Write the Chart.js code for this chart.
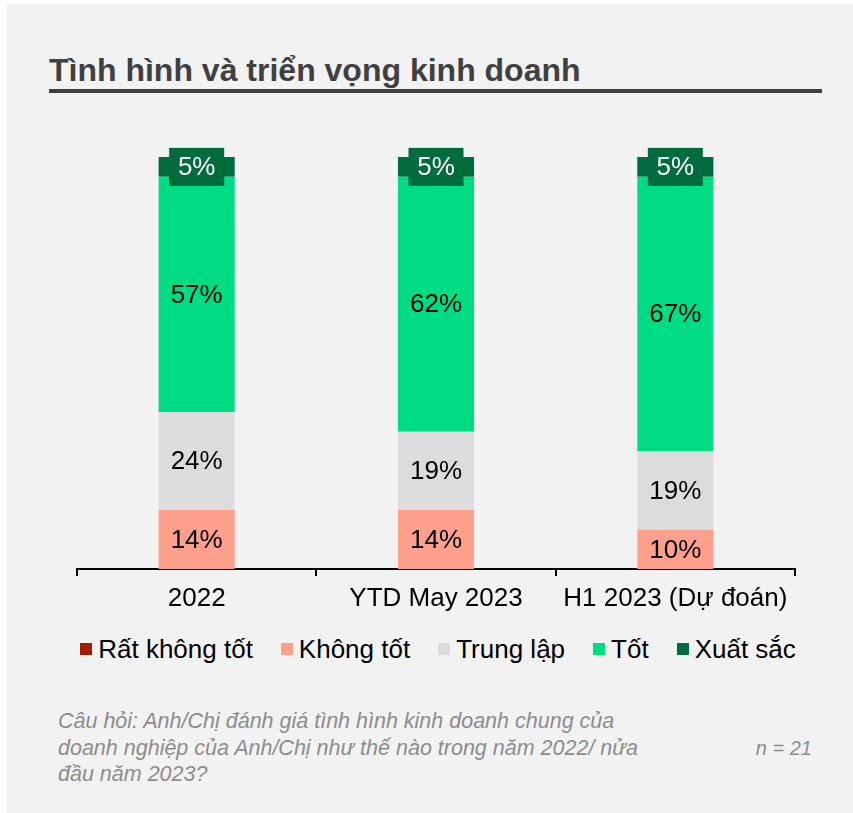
<!DOCTYPE html>
<html>
<head>
<meta charset="utf-8">
<script src="https://cdn.jsdelivr.net/npm/chart.js@4/dist/chart.umd.min.js"></script>
<style>
  html, body { margin: 0; padding: 0; background: #fff; }
  body { width: 853px; height: 813px; position: relative; overflow: hidden; font-family: "Liberation Sans", Arial, sans-serif; }
  .card { position: absolute; left: 7px; top: 4px; right: 0; bottom: 0; background: #f2f2f2; }
  .title { position: absolute; left: 49px; top: 54px; width: 773px; height: 32px; line-height: 32px; padding-bottom: 3px;
    border-bottom: 4px solid #404040; font-size: 32px; font-weight: bold; color: #404040; white-space: nowrap; }
  .wrap { position: absolute; left: 67px; top: 130px; width: 738px; height: 489px; }
  .legend { position: absolute; left: 77px; width: 722px; top: 633px; height: 32px; display: flex; justify-content: center;
    align-items: center; gap: 28px; font-size: 26px; color: #000; white-space: nowrap; }
  .legend span.item { display: flex; align-items: center; }
  .legend i { display: inline-block; width: 12px; height: 12px; margin-right: 6px; }
  .note { position: absolute; left: 58px; top: 708px; font-size: 21.5px; line-height: 26.5px; font-style: italic; color: #8c8c8c; white-space: nowrap; }
  .n { position: absolute; right: 41px; top: 735px; font-size: 20px; line-height: 26.5px; font-style: italic; color: #8c8c8c; }
</style>
</head>
<body>
<div class="card"></div>
<div class="title">Tình hình và triển vọng kinh doanh</div>
<div class="wrap"><canvas class="js-chart"></canvas></div>
<div class="legend js-legend"></div>
<div class="note">Câu hỏi: Anh/Chị đánh giá tình hình kinh doanh chung của<br>doanh nghiệp của Anh/Chị như thế nào trong năm 2022/ nửa<br>đầu năm 2023?</div>
<div class="n">n = 21</div>
<script>
const ctx = document.querySelector('.js-chart').getContext('2d');
const FONT = '"Liberation Sans", Arial, sans-serif';

const categories = ['2022', 'YTD May 2023', 'H1 2023 (Dự đoán)'];
const seriesNames = ['Rất không tốt', 'Không tốt', 'Trung lập', 'Tốt', 'Xuất sắc'];
const seriesColors = ['#a51d00', '#ffa08c', '#dcdcdf', '#00dc84', '#006b3c'];

// share of respondents, %
const ratKhongTot = [0, 0, 0];
const khongTot = [14.3, 14.3, 9.5];
const trungLap = [23.8, 19.0, 19.0];
const tot = [57.1, 61.9, 66.7];
const xuatSac = [4.8, 4.8, 4.8];

const seriesValues = [ratKhongTot, khongTot, trungLap, tot, xuatSac];

// legend
document.querySelector('.js-legend').innerHTML = seriesNames
  .map((name, i) => `<span class="item"><i style="background:${seriesColors[i]}"></i>${name}</span>`)
  .join('');

const segmentLabels = {
  id: 'segmentLabels',
  afterDatasetsDraw(chart) {
    const c = chart.ctx;
    c.save();
    c.font = '26px ' + FONT;
    c.textAlign = 'center';
    c.textBaseline = 'middle';
    chart.data.datasets.forEach((ds, di) => {
      chart.getDatasetMeta(di).data.forEach((bar, i) => {
        const v = ds.data[i];
        if (!v) return;
        const cy = (bar.y + bar.base) / 2;
        if (di === 4) {
          c.fillStyle = '#006b3c';
          c.fillRect(bar.x - 27.5, cy - 19, 55, 38);
          c.fillStyle = '#fff';
        } else {
          c.fillStyle = '#000';
        }
        c.fillText(Math.round(v) + '%', bar.x, cy + 1);
      });
    });
    c.restore();
  }
};

new Chart(ctx, {
  type: 'bar',
  data: {
    labels: categories,
    datasets: seriesNames.map((name, i) => ({
      label: name,
      data: seriesValues[i],
      backgroundColor: seriesColors[i],
      borderWidth: 0,
      barPercentage: 0.318,
      categoryPercentage: 1
    }))
  },
  options: {
    responsive: true,
    maintainAspectRatio: false,
    animation: false,
    layout: { padding: { top: 27, left: 10, right: 10, bottom: 0 } },
    plugins: {
      legend: { display: false },
      tooltip: { enabled: false }
    },
    scales: {
      x: {
        stacked: true,
        afterFit(scale) { scale.height = 50; },
        border: { display: true, color: '#000', width: 2 },
        grid: { offset: true, drawOnChartArea: false, drawTicks: true, tickLength: 7, color: '#000', lineWidth: 2 },
        ticks: { color: '#000', padding: 7, font: { family: FONT, size: 26 } }
      },
      y: {
        stacked: true,
        display: false,
        min: 0,
        max: 100
      }
    }
  },
  plugins: [segmentLabels]
});
</script>
</body>
</html>
